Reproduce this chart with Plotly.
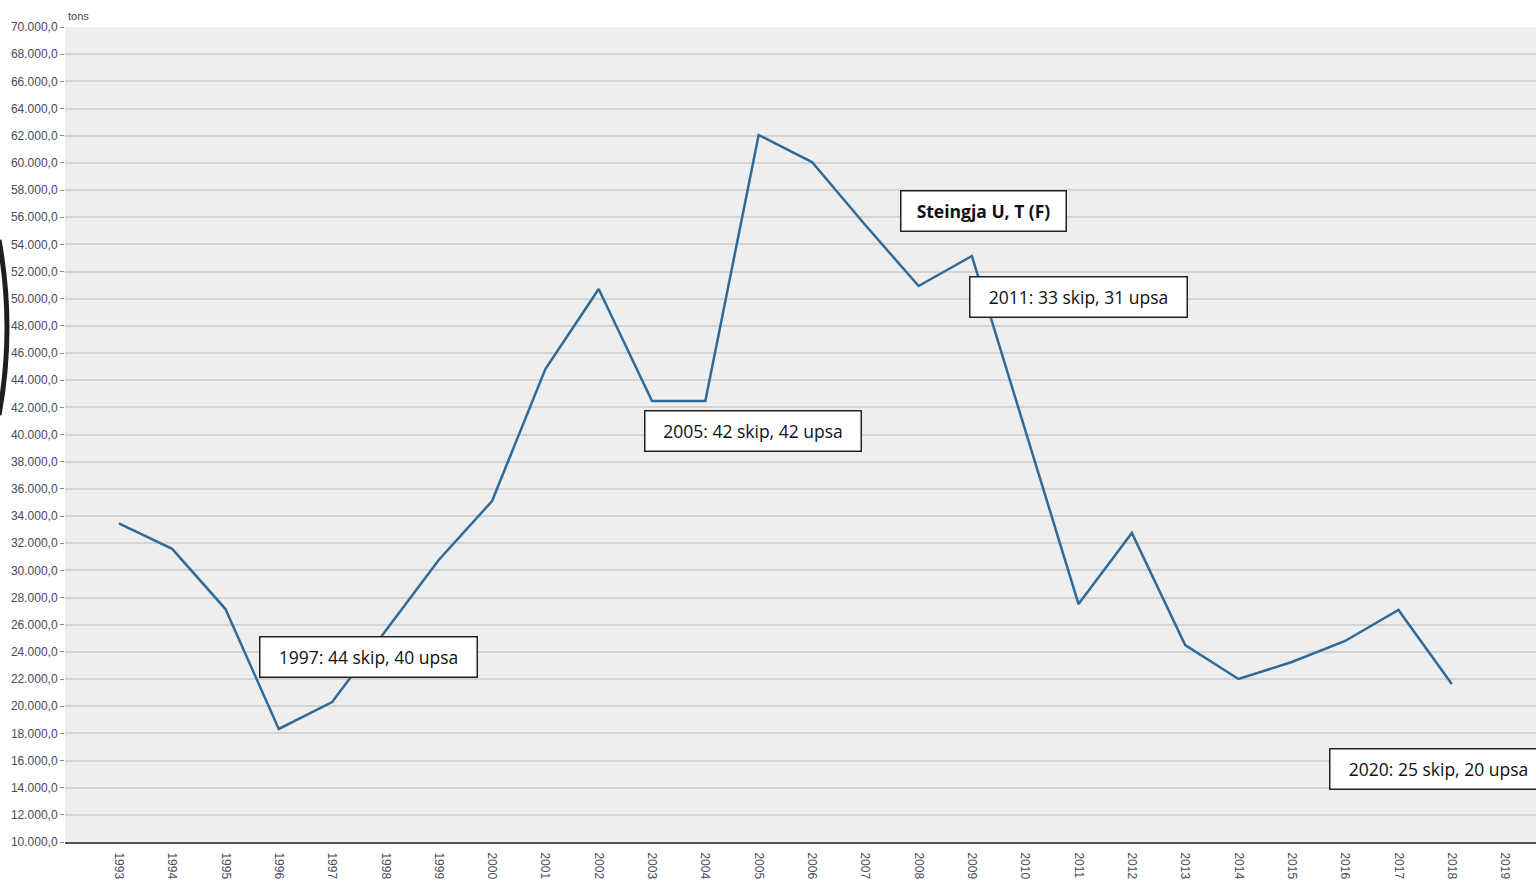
import plotly.graph_objects as go

years = list(range(1993, 2019))
tons = [33450, 31580, 27150, 18320, 20300, 25500, 30760, 35100, 44820, 50710,
        42470, 42470, 62050, 60060, 55420, 50930, 53140, 40330, 27520, 32750,
        24500, 22000, 23250, 24800, 27080, 21630]
tick_years = list(range(1993, 2020))
tick_labels = [str(y) for y in tick_years]

title_text = "Steingja U, T (F)"
notes = ["2011: 33 skip, 31 upsa", "2005: 42 skip, 42 upsa",
         "1997: 44 skip, 40 upsa", "2020: 25 skip, 20 upsa"]

W, H = 1536, 882
ML, MR, MT, MB = 65, 0, 27, 40
PW, PH = W - ML - MR, H - MT - MB


def px(x):
    return (x - ML) / PW


def py(y):
    return (H - MB - y) / PH


fig = go.Figure()
fig.add_trace(go.Scatter(x=years, y=tons, mode="lines",
                         line=dict(color="#2f6a98", width=2.5),
                         hoverinfo="skip", showlegend=False))

txtfont = dict(family="Open Sans, Noto Sans, sans-serif", size=17.5, color="#111111")
boxes = [
    (title_text, 983, 211, 167, True),
    (notes[0], 1078, 297, 219, False),
    (notes[1], 753, 431, 218, False),
    (notes[2], 368, 657, 219, False),
    (notes[3], 1438, 769, 219, False),
]
anns = []
for text, cx, cy, w, bold in boxes:
    anns.append(dict(
        text=("<b>%s</b>" % text) if bold else text,
        xref="paper", yref="paper", x=px(cx), y=py(cy),
        xanchor="center", yanchor="middle", showarrow=False,
        font=txtfont, bgcolor="white", bordercolor="#222222", borderwidth=1.5,
        borderpad=0, width=w - 3, height=39,
    ))
anns.append(dict(text="tons", xref="paper", yref="paper", x=px(66), y=py(16),
                 xanchor="left", yanchor="middle", showarrow=False,
                 font=dict(family="Liberation Sans, Arial, sans-serif", size=11, color="#4a4a5a")))

# dark arc at left edge of the picture
y0, y1, ym = py(240), py(415), py(328)
fig.add_shape(type="path", xref="paper", yref="paper",
              path="M %f,%f Q %f,%f %f,%f" % (px(-1), y0, px(15), ym, px(-1), y1),
              line=dict(color="#1e1e1e", width=5))

fig.update_layout(
    width=W, height=H,
    margin=dict(l=ML, r=MR, t=MT, b=MB, pad=0),
    paper_bgcolor="white", plot_bgcolor="#eeeeee",
    separators=",.",
    annotations=anns,
    showlegend=False,
)
fig.update_xaxes(range=[1991.99, 2019.58], tickvals=tick_years, ticktext=tick_labels,
                 tickangle=90, showgrid=False, zeroline=False,
                 showline=True, linecolor="#555555", linewidth=2,
                 ticks="outside", ticklen=6, tickcolor="rgba(0,0,0,0)",
                 tickfont=dict(family="Liberation Sans, Arial, sans-serif", size=12, color="#4a4a5a"))
fig.update_yaxes(range=[10000, 70000], dtick=2000, tick0=10000, tickformat=",.1f",
                 showgrid=True, gridcolor="#d3d3d3", gridwidth=2, zeroline=False,
                 ticks="outside", ticklen=4, tickcolor="#888888",
                 tickfont=dict(family="Liberation Sans, Arial, sans-serif", size=12, color="#4a4a5a"))

fig.write_html("out.html", config={"displayModeBar": False},
               post_script="document.body.style.margin='0';document.body.style.overflow='hidden';")
